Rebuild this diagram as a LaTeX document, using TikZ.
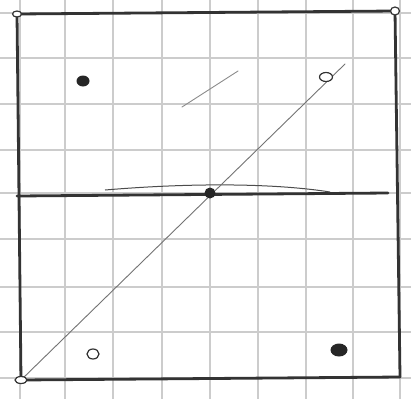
\documentclass[tikz,border=0pt]{standalone}
\usetikzlibrary{shapes.geometric}
\begin{document}
\begin{tikzpicture}[x=1pt,y=-1pt,
  gridline/.style={draw=black!20,line width=1.8pt},
  frame/.style={draw=black!80,line width=2.8pt,line cap=round},
  thinline/.style={draw=black!55,line width=0.9pt,line cap=round},
  fulldot/.style={circle,fill=black!85,inner sep=0pt},
  opendot/.style={ellipse,draw=black!80,line width=1.2pt,inner sep=0pt,fill=white},
]
\fill[white] (0,0) rectangle (411,399);
\useasboundingbox (0,0) rectangle (411,399);
% grid paper
\foreach \x in {20,65,113,162,210,258,306,353,400} \draw[gridline] (\x,0) -- (\x,399);
\foreach \y in {13,58,104,150,193,239,287,332,378} \draw[gridline] (0,\y) -- (411,\y);
% corners
\coordinate (tl) at (17,14);
\coordinate (tr) at (395,11);
\coordinate (br) at (400,377);
\coordinate (bl) at (21,380);
\coordinate (ml) at (17,196);
\coordinate (mr) at (388,193);
\coordinate (dtop) at (345,64);
\coordinate (sa) at (182,107);
\coordinate (sb) at (238,71);
% frame
\draw[frame] (tl) -- (tr);
\draw[frame] (tr) -- (br);
\draw[frame] (bl) -- (br);
\draw[frame] (tl) -- (bl);
\draw[frame] (ml) -- (mr);
\draw[draw=black!70,line width=1pt] (105,190) .. controls (200,182) and (280,184) .. (330,192);
% diagonal
\draw[thinline] (bl) -- (dtop);
\draw[thinline,draw=black!45] (sa) -- (sb);
% dots
\node[fulldot,minimum size=11pt] (m) at (210,193) {};
\node[fulldot,ellipse,minimum width=13pt,minimum height=11pt] (a) at (83,81) {};
\node[fulldot,ellipse,minimum width=17pt,minimum height=13pt] (d) at (339,350) {};
\node[opendot,minimum width=13pt,minimum height=9pt] (b) at (326,77) {};
\node[opendot,minimum width=12pt,minimum height=10pt] (c) at (93,354) {};
\node[opendot,minimum width=9pt,minimum height=6pt] (ctl) at (tl) {};
\node[opendot,minimum width=9pt,minimum height=8pt] (ctr) at (tr) {};
\node[opendot,minimum width=12pt,minimum height=7pt] (cbl) at (bl) {};
\end{tikzpicture}
\end{document}
